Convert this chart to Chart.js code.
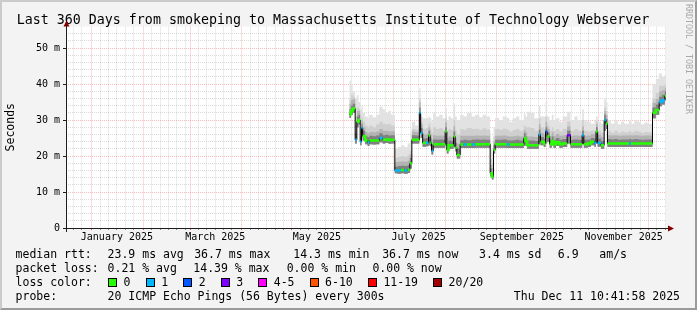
<!DOCTYPE html>
<html>
<head>
<meta charset="utf-8">
<script src="https://cdn.jsdelivr.net/npm/chart.js@4"></script>
<style>
html,body{margin:0;padding:0;background:#f3f3f3;}
#wrap{position:relative;width:697px;height:310px;overflow:hidden;background:#f3f3f3;font-family:'DejaVu Sans Mono',monospace;}
#frame{position:absolute;left:0;top:0;width:697px;height:310px;box-sizing:border-box;border-top:2px solid #cbcbcb;border-left:2px solid #cbcbcb;border-right:2px solid #9a9a9a;border-bottom:2px solid #9a9a9a;}
canvas{position:absolute;left:0;top:0;}
.t{position:absolute;font-size:11.5px;line-height:14px;white-space:pre;color:#000;font-family:'DejaVu Sans Mono',monospace;}
.lc{position:absolute;left:108px;display:flex;align-items:center;font-size:11.5px;line-height:14px;white-space:pre;font-family:'DejaVu Sans Mono',monospace;}
.lc .box{display:inline-block;width:7px;height:7px;border:1px solid #000;margin-right:6.6px;}
.lc .lab{margin-right:15px;}
#brand{position:absolute;left:684px;top:4px;writing-mode:vertical-rl;font-size:8.3px;line-height:9px;color:#a8a8a8;white-space:pre;font-family:'DejaVu Sans Mono',monospace;}
</style>
</head>
<body>
<div id="wrap">
  <div id="frame"></div>
  <canvas id="c" width="697" height="310"></canvas>
  <div id="brand">RRDTOOL / TOBI OETIKER</div>
  <div id="legend"></div>
</div>
<script>
// ---------------- data ----------------
const TITLE = 'Last 360 Days from smokeping to Massachusetts Institute of Technology Webserver';
const Y_TITLE = 'Seconds';

// x = days since the start of the 360-day window (Dec 16 2024 10:42)
const DAYS = [170,171,172,173.5,174.5,175.5,176.5,177.3,178,179.5,
181,182,184,186,188,190,191.5,193.5,195,197.3,
199,201,203,205,206.3,207.5,209.5,212,212.8,214,
216,217.5,218.5,219.3,220.3,222,224,226,227.5,228.5,
229.5,231,232.5,233.5,234.5,236.5,238.5,240.5,243.5,245.5,
248,250,252,254.5,255.5,256.5,257.5,260,262,264.5,
266,268,270,272,274.7,275.7,276.7,279,281,283.7,
284.7,286.7,287.7,288.7,290.2,291.5,292.5,294,296,298,
300.7,302.7,305,307,309.7,310.7,313,315,317,318,
319,321,322.9,323.9,324.9,327,329,331,333,335,
337.9,339,341,343,345,347,349,351.9,353.9,355.9,
357.5,359.3,360];

// median rtt (ms)
const MEDIAN = [31.6,32.5,33.2,24.5,29.5,30.0,24.0,27.8,25.5,24.3,
23.8,24.3,24.3,24.3,25.0,24.5,24.6,24.4,24.5,16.0,
16.0,16.1,16.0,16.2,18.0,24.5,24.5,32.0,26.4,23.6,
23.7,25.7,23.7,21.4,23.3,23.3,23.3,23.3,26.8,21.7,
23.0,23.0,25.4,22.3,20.3,23.2,23.2,23.2,23.2,23.3,
23.3,23.3,23.3,15.2,14.3,21.7,23.3,23.3,23.3,23.2,
23.2,23.2,23.2,23.2,25.0,24.2,23.0,23.0,23.0,26.0,
24.0,23.5,26.8,25.4,23.3,24.2,23.3,23.8,23.3,23.5,
25.8,23.3,23.3,23.3,25.8,23.3,23.5,24.0,23.6,26.8,
23.6,23.0,30.0,29.0,23.5,23.5,23.5,23.5,23.5,23.5,
23.5,23.5,23.5,23.5,23.5,23.5,23.5,32.0,32.8,35.0,
35.5,36.7,36.7];

// loss colour class (index into LOSS_COLORS)
const LOSS = [0,0,0,1,0,0,1,1,0,0,
1,0,0,0,1,0,0,0,0,1,
1,0,1,0,0,0,0,1,1,0,
1,0,0,1,0,0,0,0,0,0,
0,0,0,0,0,0,1,0,1,0,
0,0,0,0,0,0,0,0,0,1,
0,0,0,0,0,0,0,0,0,1,
0,0,2,0,0,0,0,0,0,0,
3,0,0,0,1,0,0,0,1,0,
1,0,1,0,0,0,0,0,0,0,
1,0,0,0,0,0,0,0,0,1,
1,0,0];

// smoke: lowest ping, then upper levels from darkest (closest to median) to the highest ping
const SMOKE_LO = [30.6,31.4,32.0,23.5,28.0,28.8,23.0,26.5,24.3,23.3,
22.8,23.3,23.2,23.3,23.8,23.5,23.6,23.4,23.5,15.2,
15.1,15.2,15.1,15.3,16.5,23.5,23.5,27.0,25.0,22.6,
22.7,23.0,22.7,20.4,22.3,22.3,22.3,22.3,23.0,20.7,
22.0,22.0,22.5,21.3,19.3,22.2,22.2,22.2,22.2,22.3,
22.3,22.3,22.3,14.4,13.5,20.7,22.3,22.3,22.3,22.2,
22.2,22.2,22.2,22.2,22.8,23.2,22.0,22.0,22.0,23.5,
23.0,22.5,23.5,24.0,22.3,23.0,22.3,22.8,22.3,22.5,
23.5,22.3,22.3,22.3,23.5,22.3,22.5,23.0,22.6,23.5,
22.6,22.0,27.0,27.5,22.5,22.5,22.5,22.5,22.5,22.5,
22.5,22.5,22.5,22.5,22.5,22.5,22.5,30.5,31.5,33.8,
34.3,35.5,35.5];

const SMOKE_DARK = [33.0,34.0,34.5,26.5,31.0,31.5,25.5,29.0,27.0,25.5,
25.2,25.6,25.5,25.7,26.3,25.8,25.9,25.7,25.8,17.0,
17.2,17.3,17.2,17.5,19.5,25.8,25.7,33.5,27.8,24.9,
25.0,27.0,25.0,23.0,24.6,24.5,24.6,24.5,28.0,23.5,
24.3,24.2,26.8,23.7,22.0,24.4,24.5,24.4,24.5,24.6,
24.5,24.6,24.5,16.5,15.5,23.0,24.5,24.5,24.6,24.4,
24.3,24.4,24.5,24.3,26.3,25.4,24.3,24.3,24.2,27.3,
25.3,24.8,28.0,26.6,24.5,25.4,24.5,25.0,24.5,24.7,
27.0,24.5,24.6,24.5,27.0,24.5,24.6,25.0,24.8,28.0,
24.8,24.2,31.5,30.3,24.7,24.6,24.7,24.5,24.6,24.6,
24.7,24.6,24.7,24.6,24.5,24.6,24.6,33.5,34.3,36.5,
37.0,38.0,38.0];

const SMOKE_MID = [34.5,35.5,35.8,28.5,32.5,32.5,27.0,30.0,28.0,26.7,
26.3,26.7,26.6,26.8,27.5,27.0,27.0,26.8,26.9,18.3,
18.4,18.5,18.4,18.7,20.5,26.8,26.7,35.0,28.8,26.0,
26.1,28.0,26.1,24.5,25.8,25.6,25.7,25.6,29.3,25.0,
25.4,25.3,28.2,25.0,23.5,25.6,25.6,25.6,25.6,25.7,
25.6,25.7,25.6,17.6,16.7,24.2,25.6,25.6,25.7,25.5,
25.4,25.5,25.6,25.4,27.3,26.6,25.4,25.4,25.3,28.8,
26.4,25.9,29.5,27.6,25.6,26.6,25.6,26.1,25.6,25.8,
28.2,25.6,25.7,25.6,28.2,25.6,25.7,26.1,25.9,28.8,
25.9,25.3,32.5,31.3,25.8,25.7,25.8,25.6,25.7,25.7,
25.8,25.7,25.8,25.7,25.6,25.7,25.7,34.8,35.8,38.0,
38.3,39.0,39.0];

const SMOKE_UPPER = [36.0,37.0,36.5,31.0,33.5,33.0,29.0,31.0,29.5,28.5,
28.0,28.5,28.0,28.8,29.5,29.0,28.8,29.0,28.5,19.5,
19.8,20.0,19.8,20.3,21.5,27.5,27.3,36.0,29.5,27.5,
27.8,29.0,27.5,26.5,28.0,27.5,27.8,27.3,30.5,27.0,
27.5,27.2,30.0,27.0,26.0,27.5,27.3,27.8,27.5,27.6,
27.2,27.7,27.4,19.0,18.0,25.5,27.5,27.2,27.6,27.3,
26.8,27.2,27.5,27.0,28.5,28.0,28.0,27.8,27.0,30.5,
28.0,27.5,31.0,28.5,27.0,28.0,27.0,27.5,26.8,27.5,
29.5,27.0,27.5,27.0,30.0,27.0,26.8,27.0,27.2,29.8,
27.0,26.5,33.5,32.5,27.0,26.5,27.0,26.5,26.8,26.6,
27.0,26.6,27.0,26.8,26.4,26.7,26.6,36.0,37.5,39.5,
39.5,40.0,40.0];

const SMOKE_MAX = [41.0,40.0,38.0,36.0,37.0,35.0,33.0,34.0,32.0,31.0,
30.5,31.5,30.8,31.5,33.7,33.0,32.0,32.5,31.5,22.0,
22.5,23.0,22.5,23.5,24.0,29.5,28.5,38.8,31.0,30.5,
30.5,31.0,30.5,29.5,32.0,31.0,31.5,30.5,33.2,30.0,
31.0,30.5,34.6,31.0,30.0,31.5,31.0,32.0,31.0,31.5,
30.8,31.5,31.0,22.0,21.0,28.0,30.6,30.0,31.0,30.6,
29.5,30.5,31.0,30.0,32.0,31.0,32.3,32.0,30.5,34.0,
31.0,31.0,35.0,31.0,30.0,31.5,30.0,30.5,29.5,31.0,
32.3,30.0,31.0,30.0,33.0,30.0,29.5,29.0,30.0,31.0,
29.5,29.0,36.0,35.0,30.0,29.0,30.0,28.8,29.5,29.0,
30.0,29.0,30.0,29.5,28.8,29.3,29.0,40.0,41.5,43.0,
42.0,42.5,42.5];

// axes
const Y_TICK_VALUES = [0,10,20,30,40,50];
const Y_TICK_LABELS = ['0','10 m','20 m','30 m','40 m','50 m'];
const Y_MINOR_STEP = 2;
const Y_MAX = 56;
const X_LABEL_MONTHS = ['2025-01','2025-03','2025-05','2025-07','2025-09','2025-11'];
const X_LABEL_TEXT = ['January 2025','March 2025','May 2025','July 2025','September 2025','November 2025'];
const X_MINOR_MDAYS = [6,11,16,21,26];
const WINDOW_DAYS = 360;

// legend
const LOSS_LABELS = ['0','1','2','3','4-5','6-10','11-19','20/20'];
const LOSS_COLORS = ['#26ff00','#00b8ff','#0059ff','#7e00ff','#ff00ff','#ff5500','#ff0000','#a10000'];
const RTT_STATS = ['23.9 ms avg','36.7 ms max','14.3 ms min','36.7 ms now','3.4 ms sd','6.9   am/s'];
const LOSS_STATS = ['0.21 % avg','14.39 % max','0.00 % min','0.00 % now'];
const PROBE_TEXT = '20 ICMP Echo Pings (56 Bytes) every 300s';
const STAMP_TEXT = 'Thu Dec 11 10:41:58 2025';

// ---------------- layout / style ----------------
const MONO = "'DejaVu Sans Mono', monospace";
const MAJOR_GRID = 'rgba(240,90,90,0.42)';
const MINOR_GRID = 'rgba(150,150,150,0.34)';
const SMOKE_COLORS = ['#e2e2e2', '#cfcfcf', '#b3b3b3', '#808080'];
const RTT_X = [107.6,194.2,293.3,382.2,479.1,557.8];
const LOSS_X = [107.6,193.3,286.7,372.4];

// ---------------- build ticks ----------------
const START_MS = Date.UTC(2024, 11, 16, 10, 42);
const toDay = ms => (ms - START_MS) / 86400000;
const tickMap = new Map();
function addTick(v, kind, text) {
  if (v <= 0 || v >= WINDOW_DAYS) return;
  const key = v.toFixed(3);
  const t = tickMap.get(key) || {value: v, kind: 'none', text: ''};
  if (kind === 'major' || (kind === 'minor' && t.kind !== 'major')) t.kind = kind;
  if (text) t.text = text;
  tickMap.set(key, t);
}
for (let k = 0; k < 14; k++) {
  const y = 2024 + Math.floor((11 + k) / 12), m = (11 + k) % 12;
  addTick(toDay(Date.UTC(y, m, 1)), 'major');
  X_MINOR_MDAYS.forEach(md => addTick(toDay(Date.UTC(y, m, md)), 'minor'));
}
X_LABEL_MONTHS.forEach((s, i) => {
  const [y, m] = s.split('-').map(Number);
  addTick(toDay(Date.UTC(y, m - 1, 1)) + 15, 'label', X_LABEL_TEXT[i]);
});
const X_TICKS = [...tickMap.values()].sort((a, b) => a.value - b.value);
const Y_TICKS = [];
for (let v = 0; v < Y_MAX; v += Y_MINOR_STEP) Y_TICKS.push(v);

// ---------------- datasets ----------------
const pts = arr => DAYS.map((d, i) => ({x: d, y: arr[i]}));
const coloredData = [];
for (let i = 0; i < DAYS.length - 1; i++) {
  coloredData.push({x: DAYS[i], y: MEDIAN[i], loss: LOSS[i]});
  coloredData.push({x: DAYS[i + 1], y: MEDIAN[i], loss: LOSS[i]});
  if (i < DAYS.length - 2 && (LOSS[i + 1] !== LOSS[i] || Math.abs(MEDIAN[i + 1] - MEDIAN[i]) > 1.5)) {
    coloredData.push({x: DAYS[i + 1], y: null, loss: LOSS[i]});
  }
}
const smokeBase = {type: 'line', pointRadius: 0, borderWidth: 0, stepped: true, borderColor: 'rgba(0,0,0,0)'};
const datasets = [
  Object.assign({}, smokeBase, {label: 'lo', data: pts(SMOKE_LO), fill: false, order: 10}),
  Object.assign({}, smokeBase, {label: 'smoke max', data: pts(SMOKE_MAX), fill: '-1', backgroundColor: SMOKE_COLORS[0], order: 9}),
  Object.assign({}, smokeBase, {label: 'smoke upper', data: pts(SMOKE_UPPER), fill: '-2', backgroundColor: SMOKE_COLORS[1], order: 8}),
  Object.assign({}, smokeBase, {label: 'smoke mid', data: pts(SMOKE_MID), fill: '-3', backgroundColor: SMOKE_COLORS[2], order: 7}),
  Object.assign({}, smokeBase, {label: 'smoke dark', data: pts(SMOKE_DARK), fill: '-4', backgroundColor: SMOKE_COLORS[3], order: 6}),
  {type: 'line', label: 'median', data: pts(MEDIAN), stepped: true, borderColor: '#000', borderWidth: 1, pointRadius: 0, fill: false, order: 2},
  {type: 'line', label: 'median loss', data: coloredData, borderWidth: 2.5, pointRadius: 0, fill: false, spanGaps: false,
   borderCapStyle: 'butt', borderColor: LOSS_COLORS[0], order: 1,
   segment: {borderColor: c => LOSS_COLORS[coloredData[c.p0DataIndex].loss]}}
];

// ---------------- plugins ----------------
const framePlugin = {
  id: 'rrdframe',
  beforeDraw(chart) {
    const a = chart.chartArea, ctx = chart.ctx;
    ctx.save();
    ctx.fillStyle = '#ffffff';
    ctx.fillRect(a.left, a.top, a.right - a.left, a.bottom - a.top);
    ctx.restore();
  },
  afterDraw(chart) {
    const a = chart.chartArea, ctx = chart.ctx;
    const yb = Math.round(a.bottom) + 0.5, xl = Math.round(a.left) + 0.5;
    ctx.save();
    ctx.strokeStyle = '#1e1e1e';
    ctx.lineWidth = 1;
    ctx.beginPath();
    ctx.moveTo(a.left - 3, yb); ctx.lineTo(a.right + 3, yb);
    ctx.moveTo(xl, a.bottom + 4); ctx.lineTo(xl, a.top - 1);
    ctx.stroke();
    ctx.fillStyle = '#800000';
    ctx.beginPath();
    ctx.moveTo(a.right + 2, yb - 3); ctx.lineTo(a.right + 8, yb); ctx.lineTo(a.right + 2, yb + 3); ctx.closePath();
    ctx.fill();
    ctx.beginPath();
    ctx.moveTo(xl - 3, a.top); ctx.lineTo(xl, a.top - 6); ctx.lineTo(xl + 3, a.top); ctx.closePath();
    ctx.fill();
    ctx.restore();
  }
};

new Chart(document.getElementById('c'), {
  type: 'line',
  data: {datasets},
  plugins: [framePlugin],
  options: {
    responsive: false,
    devicePixelRatio: 1,
    animation: false,
    events: [],
    layout: {padding: {left: 0, right: 31, top: 0, bottom: 0}},
    plugins: {
      legend: {display: false},
      tooltip: {enabled: false},
      title: {display: true, text: TITLE, color: '#000', padding: {top: 14.5, bottom: 0},
              font: {family: MONO, size: 13.3, weight: 'normal', lineHeight: 0.9}}
    },
    scales: {
      x: {
        type: 'linear', min: 0, max: WINDOW_DAYS, z: 1,
        afterBuildTicks: s => { s.ticks = X_TICKS.map(t => ({value: t.value, kind: t.kind, text: t.text})); },
        afterFit: s => { s.height = 82; },
        ticks: {autoSkip: false, maxRotation: 0, minRotation: 0, padding: 1.5, color: '#000',
                font: {family: MONO, size: 10}, callback: (v, i, ticks) => ticks[i].text || ''},
        grid: {lineWidth: 1, tickLength: 2,
               color: c => c.tick.kind === 'major' ? MAJOR_GRID : (c.tick.kind === 'minor' ? MINOR_GRID : 'rgba(0,0,0,0)'),
               tickColor: c => c.tick.kind === 'major' ? '#d06060' : (c.tick.kind === 'minor' ? '#888' : 'rgba(0,0,0,0)')},
        border: {display: false, dash: [1, 1]}
      },
      y: {
        min: 0, max: Y_MAX, z: 1,
        afterBuildTicks: s => { s.ticks = Y_TICKS.map(v => ({value: v})); },
        afterFit: s => { s.width = 66; },
        ticks: {autoSkip: false, padding: 3, color: '#000', font: {family: MONO, size: 10},
                callback: v => { const k = Y_TICK_VALUES.indexOf(v); return k >= 0 ? Y_TICK_LABELS[k] : ''; }},
        grid: {lineWidth: 1, tickLength: 3,
               color: c => Y_TICK_VALUES.includes(c.tick.value) ? MAJOR_GRID : MINOR_GRID,
               tickColor: c => Y_TICK_VALUES.includes(c.tick.value) ? '#1e1e1e' : 'rgba(0,0,0,0)'},
        border: {display: false, dash: [1, 1]},
        title: {display: true, text: Y_TITLE, color: '#000', font: {family: MONO, size: 11.5}, padding: {top: 4, bottom: 0}}
      }
    }
  }
});

// ---------------- legend (HTML text) ----------------
const legend = document.getElementById('legend');
function txt(s, left, centerY, right) {
  const d = document.createElement('div');
  d.className = 't';
  d.textContent = s;
  d.style.top = (centerY - 7) + 'px';
  if (right !== undefined) d.style.right = right + 'px'; else d.style.left = left + 'px';
  legend.appendChild(d);
}
txt('median rtt:', 15.6, 254.3);
RTT_STATS.forEach((s, i) => txt(s, RTT_X[i], 254.3));
txt('packet loss:', 15.6, 268.3);
LOSS_STATS.forEach((s, i) => txt(s, LOSS_X[i], 268.3));
txt('loss color:', 15.6, 282.3);
const lc = document.createElement('div');
lc.className = 'lc';
lc.style.top = (282.3 - 7) + 'px';
LOSS_LABELS.forEach((l, i) => {
  const b = document.createElement('span'); b.className = 'box'; b.style.background = LOSS_COLORS[i];
  const t = document.createElement('span'); t.className = 'lab'; t.textContent = l;
  lc.appendChild(b); lc.appendChild(t);
});
legend.appendChild(lc);
txt('probe:', 15.6, 296);
txt(PROBE_TEXT, 107.6, 296);
txt(STAMP_TEXT, 0, 296, 17);
</script>
</body>
</html>
